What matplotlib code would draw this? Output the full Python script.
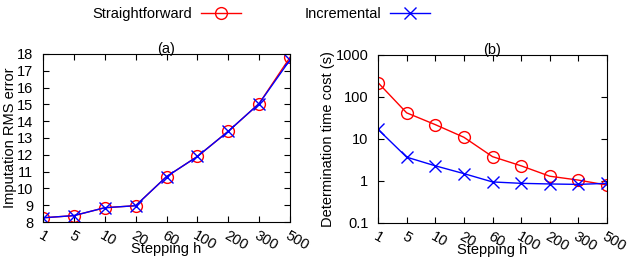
import matplotlib

matplotlib.use("Agg")
import matplotlib.pyplot as plt  # noqa: E402
from matplotlib.lines import Line2D  # noqa: E402
from matplotlib.ticker import FixedLocator, NullLocator  # noqa: E402

plt.rcParams["font.family"] = ["Liberation Sans", "DejaVu Sans"]

steps = ["1", "5", "10", "20", "60", "100", "200", "300", "500"]
rms_straight = [8.25, 8.38, 8.85, 8.97, 10.7, 11.9, 13.4, 15.05, 17.8]
rms_incr = [8.25, 8.38, 8.85, 8.97, 10.7, 11.9, 13.4, 15.05, 17.65]
time_straight = [220, 42, 22, 11, 3.8, 2.3, 1.3, 1.05, 0.8]
time_incr = [17, 3.7, 2.3, 1.5, 0.95, 0.88, 0.85, 0.83, 0.88]

W, H = 628, 258
fig = plt.figure(figsize=(W / 100, H / 100), dpi=100)
ax1 = fig.add_axes([43 / W, 1 - 222 / H, 247 / W, 168 / H])
ax2 = fig.add_axes([378 / W, 1 - 223 / H, 229 / W, 168 / H])

x = list(range(len(steps)))
red_style = dict(color="red", marker="o", markersize=8.5, markerfacecolor="none", lw=1.0, mew=1.0)
blue_style = dict(color="blue", marker="x", markersize=8.5, lw=1.0, mew=1.0)

for ax in (ax1, ax2):
    ax.tick_params(direction="in", labelsize=10.5, length=4, top=True, right=True)
    ax.tick_params(axis="y", pad=7)
    ax.tick_params(axis="x", pad=5)
    ax.set_xlim(0, len(steps) - 1)
    ax.set_xticks(x)
    ax.set_xticklabels(steps, rotation=-30, ha="left", va="top")
    for lbl in ax.get_xticklabels():
        lbl.set_rotation_mode("anchor")
    ax.set_xlabel("Stepping h", fontsize=10.5)
    ax.xaxis.set_label_coords(0.5, -0.12)

ax1.plot(x, rms_straight, **red_style)
ax1.plot(x, rms_incr, **blue_style)
ax1.set_ylim(8, 18)
ax1.set_yticks(range(8, 19))
ax1.set_ylabel("Imputation RMS error", fontsize=10.5, labelpad=0)
ax1.set_title("(a)", fontsize=10.5, pad=1)

ax2.plot(x, time_straight, **red_style)
ax2.plot(x, time_incr, **blue_style)
ax2.set_yscale("log")
ax2.set_ylim(0.1, 1000)
ax2.yaxis.set_major_locator(FixedLocator([0.1, 1, 10, 100, 1000]))
ax2.yaxis.set_minor_locator(NullLocator())
ax2.set_yticklabels(["0.1", "1", "10", "100", "1000"])
ax2.set_ylabel("Determination time cost (s)", fontsize=10.5, labelpad=0)
ax2.set_title("(b)", fontsize=10.5, pad=1)

handles = [Line2D([], [], **red_style), Line2D([], [], **blue_style)]
fig.legend(handles, ["Straightforward", "Incremental"], loc="center left",
           bbox_to_anchor=(92 / W, 1 - 14 / H), ncol=2, frameon=False, fontsize=10.5,
           markerfirst=False, handlelength=2.75, columnspacing=4.4, handletextpad=0.6,
           borderpad=0, borderaxespad=0)

fig.savefig("out.png", dpi=100)
